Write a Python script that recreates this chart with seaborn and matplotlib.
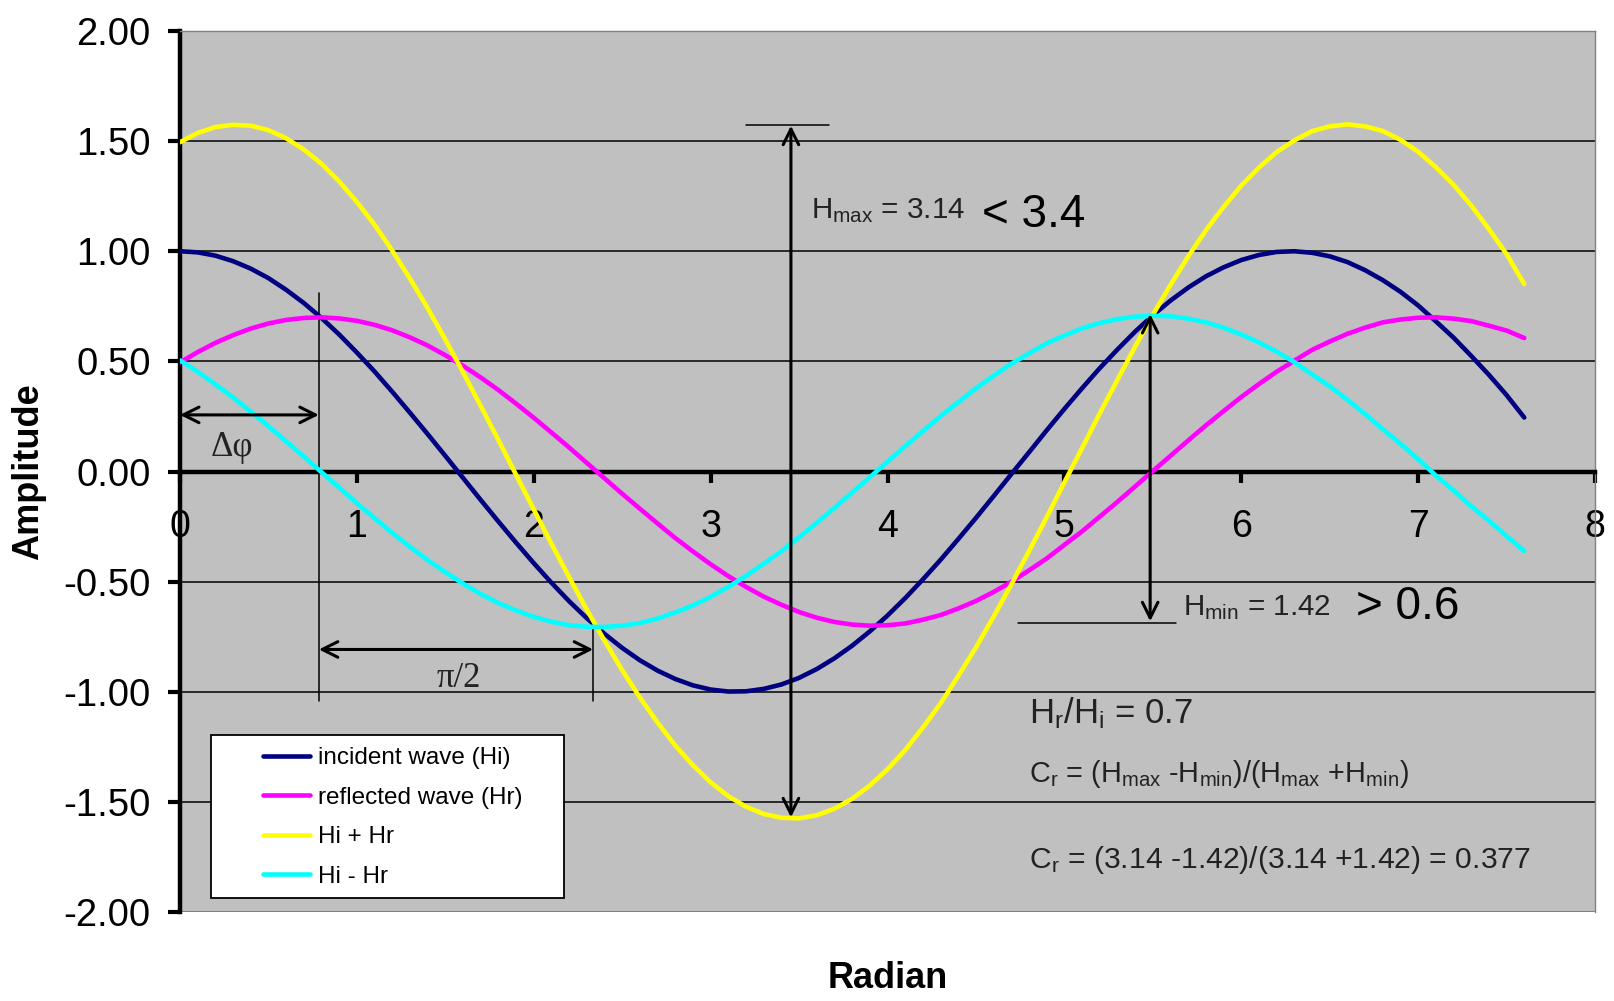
import matplotlib
matplotlib.use("Agg")
import matplotlib.pyplot as plt
import matplotlib.patches as mpatches
from matplotlib import font_manager as fm
import seaborn as sns
import pandas as pd

# Sample positions (radian) and amplitudes of the four waves
x_rad = [0.0, 0.1, 0.2, 0.3, 0.4, 0.5, 0.6, 0.7, 0.8, 0.9,
         1.0, 1.1, 1.2, 1.3, 1.4, 1.5, 1.6, 1.7, 1.8, 1.9,
         2.0, 2.1, 2.2, 2.3, 2.4, 2.5, 2.6, 2.7, 2.8, 2.9,
         3.0, 3.1, 3.2, 3.3, 3.4, 3.5, 3.6, 3.7, 3.8, 3.9,
         4.0, 4.1, 4.2, 4.3, 4.4, 4.5, 4.6, 4.7, 4.8, 4.9,
         5.0, 5.1, 5.2, 5.3, 5.4, 5.5, 5.6, 5.7, 5.8, 5.9,
         6.0, 6.1, 6.2, 6.3, 6.4, 6.5, 6.6, 6.7, 6.8, 6.9,
         7.0, 7.1, 7.2, 7.3, 7.4, 7.5, 7.6]

incident = [1.000, 0.995, 0.980, 0.955, 0.921, 0.878, 0.825, 0.765, 0.697, 0.622,
            0.540, 0.454, 0.362, 0.267, 0.170, 0.071, -0.029, -0.129, -0.227, -0.323,
            -0.416, -0.505, -0.589, -0.666, -0.737, -0.801, -0.857, -0.904, -0.942, -0.971,
            -0.990, -0.999, -0.998, -0.987, -0.967, -0.937, -0.897, -0.848, -0.791, -0.726,
            -0.654, -0.575, -0.490, -0.401, -0.307, -0.211, -0.112, -0.012, 0.087, 0.187,
            0.284, 0.378, 0.469, 0.554, 0.635, 0.709, 0.776, 0.835, 0.886, 0.927,
            0.960, 0.983, 0.997, 1.000, 0.993, 0.977, 0.951, 0.914, 0.869, 0.816,
            0.754, 0.682, 0.608, 0.525, 0.439, 0.347, 0.245]

reflected = [0.495, 0.542, 0.584, 0.619, 0.649, 0.672, 0.688, 0.697, 0.700, 0.695,
             0.684, 0.666, 0.641, 0.609, 0.572, 0.528, 0.480, 0.427, 0.370, 0.308,
             0.244, 0.177, 0.109, 0.039, -0.031, -0.101, -0.169, -0.236, -0.302, -0.363,
             -0.421, -0.475, -0.524, -0.568, -0.605, -0.638, -0.664, -0.683, -0.695, -0.700,
             -0.698, -0.690, -0.673, -0.652, -0.622, -0.588, -0.547, -0.501, -0.449, -0.395,
             -0.333, -0.272, -0.205, -0.138, -0.068, 0.002, 0.071, 0.141, 0.209, 0.274,
             0.338, 0.397, 0.453, 0.503, 0.552, 0.590, 0.625, 0.653, 0.677, 0.690,
             0.698, 0.700, 0.694, 0.683, 0.662, 0.640, 0.606]

wave_sum = [1.495, 1.537, 1.564, 1.574, 1.570, 1.550, 1.513, 1.462, 1.397, 1.317,
            1.224, 1.120, 1.003, 0.876, 0.742, 0.599, 0.451, 0.298, 0.143, -0.015,
            -0.172, -0.328, -0.480, -0.627, -0.768, -0.902, -1.026, -1.140, -1.244, -1.334,
            -1.411, -1.474, -1.522, -1.555, -1.572, -1.575, -1.561, -1.531, -1.486, -1.426,
            -1.352, -1.265, -1.163, -1.053, -0.929, -0.799, -0.659, -0.513, -0.362, -0.208,
            -0.049, 0.106, 0.264, 0.416, 0.567, 0.711, 0.847, 0.976, 1.095, 1.201,
            1.298, 1.380, 1.450, 1.503, 1.545, 1.567, 1.576, 1.567, 1.546, 1.506,
            1.452, 1.382, 1.302, 1.208, 1.101, 0.987, 0.851]

wave_diff = [0.505, 0.453, 0.396, 0.336, 0.272, 0.206, 0.137, 0.068, -0.003, -0.073,
             -0.144, -0.212, -0.279, -0.342, -0.402, -0.457, -0.509, -0.556, -0.597, -0.631,
             -0.660, -0.682, -0.698, -0.705, -0.706, -0.700, -0.688, -0.668, -0.640, -0.608,
             -0.569, -0.524, -0.474, -0.419, -0.362, -0.299, -0.233, -0.165, -0.096, -0.026,
             0.044, 0.115, 0.183, 0.251, 0.315, 0.377, 0.435, 0.489, 0.536, 0.582,
             0.617, 0.650, 0.674, 0.692, 0.703, 0.707, 0.705, 0.694, 0.677, 0.653,
             0.622, 0.586, 0.544, 0.497, 0.441, 0.387, 0.326, 0.261, 0.192, 0.126,
             0.056, -0.018, -0.086, -0.158, -0.223, -0.293, -0.361]

series_names = ["incident wave (Hi)", "reflected wave (Hr)", "Hi + Hr", "Hi - Hr"]
series_colors = ["#000080", "#FF00FF", "#FFFF00", "#00FFFF"]

y_ticks = [-2.0, -1.5, -1.0, -0.5, 0.0, 0.5, 1.0, 1.5, 2.0]
x_ticks = [0, 1, 2, 3, 4, 5, 6, 7, 8]

# Reference values used by the annotations
phase_shift = 0.785      # Δφ = π/4
quarter_end = 2.336      # Δφ + π/2 marker
h_max_x = 3.454
h_max_half = 1.57
h_min_x = 5.485
h_min_top = 0.715
h_min_bottom = -0.68

sns.set_theme(style="white")
plt.rcParams["font.family"] = ["Liberation Sans", "DejaVu Sans"]
plt.rcParams["axes.unicode_minus"] = False
plt.rcParams["mathtext.default"] = "regular"
plt.rcParams["lines.solid_joinstyle"] = "round"
plt.rcParams["lines.solid_capstyle"] = "round"

# narrow face for the formula annotations, if present
try:
    fm.findfont(fm.FontProperties(family="Liberation Sans Narrow"), fallback_to_default=False)
    NARROW = ["Liberation Sans Narrow"]
    nscale = 1.0
except ValueError:
    NARROW = ["Liberation Sans"]
    nscale = 0.82

df = pd.DataFrame({
    "Radian": x_rad * 4,
    "Amplitude": incident + reflected + wave_sum + wave_diff,
    "series": sum([[n] * len(x_rad) for n in series_names], []),
})

fig = plt.figure(figsize=(16.14, 10.01), dpi=100)
fig.patch.set_facecolor("white")
ax = fig.add_axes([180 / 1614, 1 - 912 / 1001, 1415 / 1614, 881 / 1001])
ax.set_facecolor("#C0C0C0")

sns.lineplot(data=df, x="Radian", y="Amplitude", hue="series",
             hue_order=series_names, palette=dict(zip(series_names, series_colors)),
             linewidth=3.3, legend=False, errorbar=None, ax=ax, zorder=3)

ax.set_xlim(0, 8)
ax.set_ylim(-2, 2)
ax.set_yticks(y_ticks)
ax.set_yticklabels([f"{v:.2f}" for v in y_ticks])
ax.set_xticks(x_ticks)
ax.set_xticklabels([str(v) for v in x_ticks])

# horizontal gridlines (not on the frame edges)
ax.yaxis.grid(True, color="black", linewidth=1.1)
gl = ax.get_ygridlines()
gl[0].set_visible(False)
gl[-1].set_visible(False)
ax.set_axisbelow(True)

# spines: heavy left axis and zero line, light grey frame elsewhere
ax.spines["left"].set_linewidth(3.2)
ax.spines["left"].set_color("black")
ax.spines["bottom"].set_position(("data", 0))
ax.spines["bottom"].set_linewidth(3.2)
ax.spines["bottom"].set_color("black")
ax.spines["bottom"].set_zorder(2.5)
for s in ("top", "right"):
    ax.spines[s].set_color("#808080")
    ax.spines[s].set_linewidth(1.0)
ax.axhline(-2, color="#808080", linewidth=1.5, zorder=1)

ax.tick_params(axis="y", direction="out", length=9, width=3, pad=12,
               labelsize=27.5, colors="black", left=True)
ax.tick_params(axis="x", direction="out", length=8, width=3, pad=19,
               labelsize=27, colors="black", bottom=True)

ax.set_ylabel("Amplitude", fontsize=26, fontweight="bold", color="black")
ax.yaxis.label.set_va("center")
ax.yaxis.set_label_coords(-0.107, 0.5)
ax.set_xlabel("Radian", fontsize=26, fontweight="bold", color="black")
ax.xaxis.label.set_va("center")
ax.xaxis.set_label_coords(0.5, -0.075)

# legend box
box = mpatches.Rectangle((0.175, -1.936), 1.995, 0.74, transform=ax.transData,
                         facecolor="white", edgecolor="black", linewidth=1.3, zorder=4)
ax.add_patch(box)
handles = ax.get_lines()[:4]
leg = ax.legend(handles, series_names, loc="upper left",
                bbox_to_anchor=(0.0587, 0.187), bbox_transform=ax.transAxes,
                frameon=False, fontsize=17.5, handlelength=1.95, handletextpad=0.3,
                labelspacing=0.72, borderpad=0, borderaxespad=0)
leg.set_zorder(5)
for t in leg.get_texts():
    t.set_color("black")

arrow_kw = dict(arrowstyle="<->", color="black", lw=2.2, shrinkA=0, shrinkB=0,
                mutation_scale=28)

# phase shift markers
ax.plot([phase_shift, phase_shift], [0.81, -1.04], color="black", lw=1.1, zorder=2.6)
ax.plot([quarter_end, quarter_end], [-0.69, -1.04], color="black", lw=1.1, zorder=2.6)
ax.annotate("", xy=(phase_shift, 0.257), xytext=(0, 0.257), arrowprops=arrow_kw, zorder=6)
ax.annotate("", xy=(quarter_end, -0.808), xytext=(phase_shift, -0.808),
            arrowprops=arrow_kw, zorder=6)
ax.text(0.175, 0.07, "Δφ", family=["Liberation Serif"], fontsize=25, color="#222222",
        va="baseline", ha="left")
ax.text(1.576, -0.98, "π/2", family=["Liberation Serif"], fontsize=25, color="#222222",
        va="baseline", ha="center")

# H_max and H_min arrows
ax.annotate("", xy=(h_max_x, h_max_half), xytext=(h_max_x, -h_max_half),
            arrowprops=arrow_kw, zorder=6)
ax.plot([3.198, 3.672], [1.575, 1.575], color="black", lw=1.1, zorder=2.6)
ax.annotate("", xy=(h_min_x, h_min_top), xytext=(h_min_x, h_min_bottom),
            arrowprops=arrow_kw, zorder=6)
ax.plot([4.74, 5.63], [-0.687, -0.687], color="black", lw=1.1, zorder=2.6)

ax.text(3.565, 1.15, r"H$_{max}$ = 3.14", family=NARROW, fontsize=26 * nscale,
        color="#222222", va="baseline", ha="left")
ax.text(4.537, 1.11, "< 3.4", fontsize=33, color="black", va="baseline", ha="left")
ax.text(5.672, -0.654, r"H$_{min}$ = 1.42", family=NARROW, fontsize=26 * nscale,
        color="#222222", va="baseline", ha="left")
ax.text(6.65, -0.668, "> 0.6", fontsize=33, color="black", va="baseline", ha="left")

ax.text(4.80, -1.145, r"H$_{r}$/H$_{i}$ = 0.7", fontsize=25, color="#222222",
        va="baseline", ha="left")
ax.text(4.80, -1.41, r"C$_{r}$ = (H$_{max}$ -H$_{min}$)/(H$_{max}$ +H$_{min}$)",
        family=NARROW, fontsize=25.4 * nscale, color="#222222", va="baseline", ha="left")
ax.text(4.80, -1.80, r"C$_{r}$ = (3.14 -1.42)/(3.14 +1.42) = 0.377",
        family=NARROW, fontsize=26.5 * nscale, color="#222222", va="baseline", ha="left")

fig.savefig("out.png", dpi=100, facecolor="white")
